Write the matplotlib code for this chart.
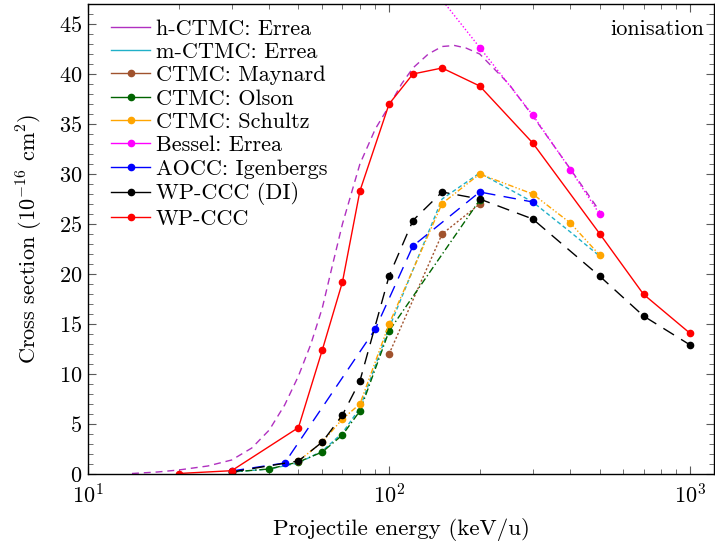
import matplotlib
matplotlib.use("Agg")
import matplotlib.pyplot as plt
from matplotlib.lines import Line2D
from matplotlib.ticker import MultipleLocator, LogLocator, NullFormatter

plt.rcParams['font.family'] = 'serif'
plt.rcParams['font.serif'] = ['cmr10']
plt.rcParams['mathtext.fontset'] = 'cm'
plt.rcParams['axes.formatter.use_mathtext'] = True
plt.rcParams['font.size'] = 16

# --- data (energy in keV/u, cross section in 1e-16 cm^2) ---
h_ctmc_E = [14, 17, 20, 25, 30, 35, 40, 45, 50, 55, 60, 65, 70, 80, 90, 100, 110, 120, 135, 150, 165, 180, 200, 250, 300, 400, 500]
h_ctmc_s = [0.05, 0.2, 0.4, 0.8, 1.4, 2.6, 4.4, 6.9, 9.8, 13.0, 16.6, 21.0, 25.0, 31.0, 34.5, 36.8, 39.0, 40.6, 42.0, 42.75, 42.85, 42.6, 42.0, 39.0, 35.8, 30.5, 26.3]

m_ctmc_E = [30, 40, 50, 60, 70, 80, 100, 150, 200, 300, 400, 500]
m_ctmc_s = [0.2, 0.5, 1.1, 2.3, 4.1, 6.6, 14.6, 27.5, 30.1, 27.2, 24.2, 21.8]

maynard_E = [100, 150, 200]
maynard_s = [12.0, 24.0, 27.0]

olson_E = [30, 40, 50, 60, 70, 80, 100, 200]
olson_s = [0.2, 0.5, 1.2, 2.2, 3.9, 6.3, 14.3, 27.4]

schultz_E = [50, 60, 70, 80, 100, 150, 200, 300, 400, 500]
schultz_s = [1.3, 3.2, 5.5, 7.0, 15.0, 27.05, 30.0, 28.0, 25.1, 21.9]

bessel_E = [100, 200, 300, 400, 500]
bessel_s = [54.1, 42.65, 35.9, 30.45, 26.0]

aocc_E = [30, 45, 90, 120, 200, 300]
aocc_s = [0.3, 1.1, 14.5, 22.8, 28.2, 27.2]

wp_di_E = [30, 50, 60, 70, 80, 100, 120, 150, 200, 300, 500, 700, 1000]
wp_di_s = [0.2, 1.3, 3.2, 5.9, 9.3, 19.8, 25.35, 28.2, 27.5, 25.5, 19.8, 15.8, 12.9]

wp_E = [20, 30, 50, 60, 70, 80, 100, 120, 150, 200, 300, 500, 700, 1000]
wp_s = [0.05, 0.33, 4.64, 12.4, 19.2, 28.3, 37.0, 40.0, 40.6, 38.8, 33.1, 24.05, 17.97, 14.06]

fig = plt.figure(figsize=(7.15, 5.49), dpi=100)
ax = fig.add_axes([88 / 715, 1 - 474 / 549, 626 / 715, 470 / 549])

lw = 1.0
ms = 4.5
series = [
    (h_ctmc_E, h_ctmc_s, "h-CTMC: Errea", "#b030c0", (0, (5, 3.5)), None),
    (m_ctmc_E, m_ctmc_s, "m-CTMC: Errea", "#20b0c8", (0, (3, 2)), None),
    (maynard_E, maynard_s, "CTMC: Maynard", "#a0522d", (0, (1.5, 1.5)), "o"),
    (olson_E, olson_s, "CTMC: Olson", "#006400", (0, (5, 2, 1, 2)), "o"),
    (schultz_E, schultz_s, "CTMC: Schultz", "#ffa500", (0, (4, 1.5, 1, 1.5, 1, 1.5)), "o"),
    (bessel_E, bessel_s, "Bessel: Errea", "#ff00ff", (0, (1, 1.5)), "o"),
    (aocc_E, aocc_s, "AOCC: Igenbergs", "#0000ff", (0, (9, 6)), "o"),
    (wp_di_E, wp_di_s, "WP-CCC (DI)", "black", (0, (9, 6)), "o"),
    (wp_E, wp_s, "WP-CCC", "#ff0000", "-", "o"),
]

handles = []
for E, s, label, c, ls, mk in series:
    ax.plot(E, s, color=c, linestyle=ls, linewidth=lw, marker=mk, markersize=ms)
    handles.append(Line2D([], [], color=c, linewidth=lw, marker=mk, markersize=ms, label=label))

ax.set_xscale("log")
ax.set_xlim(10, 1200)
ax.set_ylim(0, 47)
ax.yaxis.set_major_locator(MultipleLocator(5))
ax.yaxis.set_minor_locator(MultipleLocator(1))
ax.xaxis.set_major_locator(LogLocator(base=10))
ax.xaxis.set_minor_locator(LogLocator(base=10, subs=range(2, 10)))
ax.xaxis.set_minor_formatter(NullFormatter())
ax.tick_params(which="both", direction="in", top=True, right=True, color="0.35")
ax.tick_params(which="major", length=6, width=0.8)
ax.tick_params(which="minor", length=3.5, width=0.6)
ax.tick_params(axis="x", which="major", pad=7)
ax.tick_params(axis="y", which="major", pad=4)
for sp in ax.spines.values():
    sp.set_linewidth(1.0)

ax.set_xlabel("Projectile energy (keV/u)", labelpad=7, fontsize=16.5)
ax.set_ylabel(r"Cross section ($10^{-16}$ cm$^2$)", labelpad=10)
ax.text(0.985, 0.966, "ionisation", transform=ax.transAxes, ha="right", va="top")

ax.legend(handles=handles, loc="upper left", bbox_to_anchor=(0.037, 0.968), frameon=False,
          handlelength=1.75, labelspacing=0.17, handletextpad=0.25, borderaxespad=0, borderpad=0)

fig.savefig("out.png", dpi=100)
